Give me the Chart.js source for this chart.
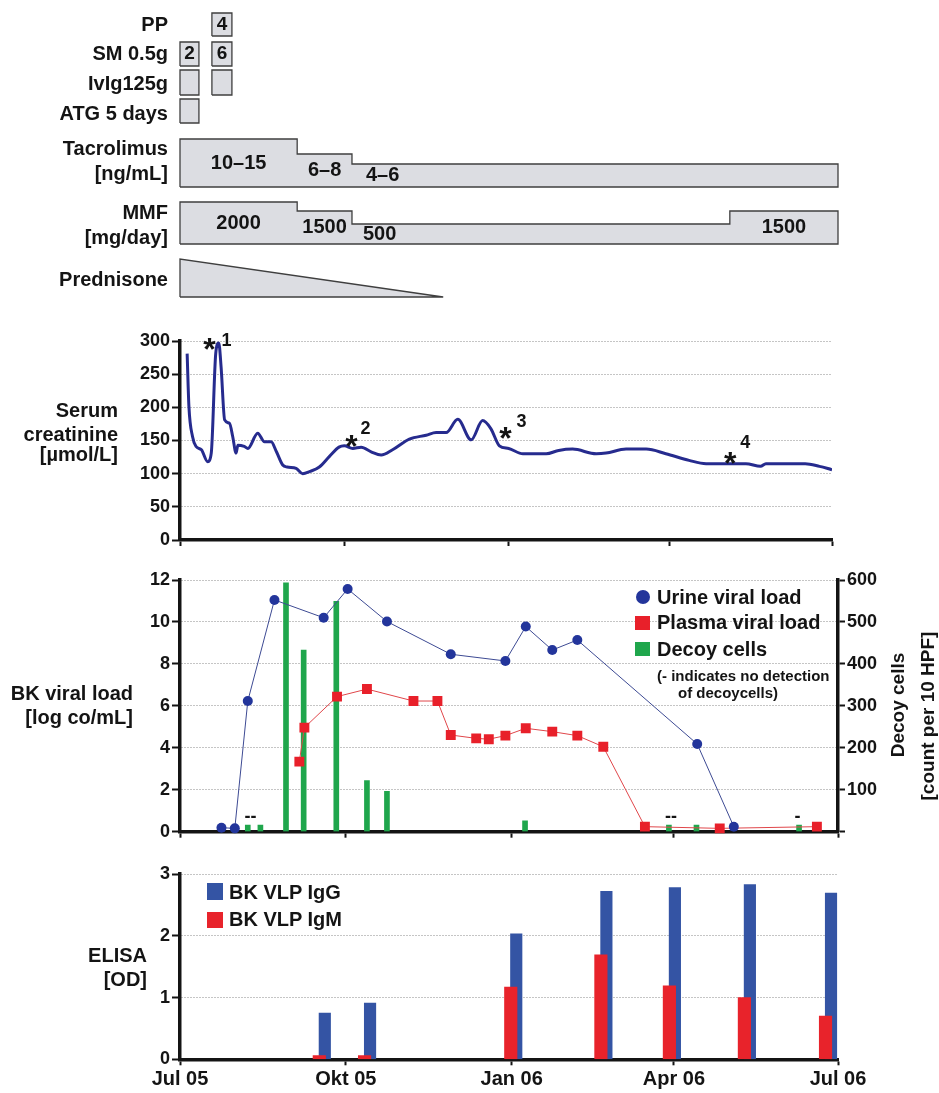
<!DOCTYPE html>
<html><head><meta charset="utf-8">
<script src="https://cdn.jsdelivr.net/npm/chart.js@4.4.1/dist/chart.umd.min.js"></script>
<style>
html,body{margin:0;padding:0;background:#fff;}
#wrap{position:relative;width:939px;height:1093px;overflow:hidden;background:#fff;}
canvas{position:absolute;left:0;}
.t{position:absolute;font:bold 20px/24px "Liberation Sans",Arial,Helvetica,sans-serif;color:#141414;white-space:nowrap;}
.r{text-align:right;}
.n{font:bold 15px/18px "Liberation Sans",Arial,Helvetica,sans-serif;}
.v{font:bold 19px/22px "Liberation Sans",Arial,Helvetica,sans-serif;transform:translate(-50%,-50%) rotate(-90deg);}
.sw{position:absolute;}
</style></head><body>
<div id="wrap">
<canvas id="cTreat" width="939" height="305" style="top:0px"></canvas>
<canvas id="cCrea" width="939" height="240" style="top:320px"></canvas>
<canvas id="cBK" width="939" height="285" style="top:565px"></canvas>
<canvas id="cElisa" width="939" height="243" style="top:850px"></canvas>

<div class="t r" style="right:771px;top:12px">PP</div>
<div class="t r" style="right:771px;top:41px">SM 0.5g</div>
<div class="t r" style="right:771px;top:71px">IvIg125g</div>
<div class="t r" style="right:771px;top:101px">ATG 5 days</div>
<div class="t r" style="right:771px;top:136px">Tacrolimus</div>
<div class="t r" style="right:771px;top:161px">[ng/mL]</div>
<div class="t r" style="right:771px;top:200px">MMF</div>
<div class="t r" style="right:771px;top:225px">[mg/day]</div>
<div class="t r" style="right:771px;top:267px">Prednisone</div>

<div class="t r" style="right:821px;top:398px">Serum</div>
<div class="t r" style="right:821px;top:422px">creatinine</div>
<div class="t r" style="right:821px;top:442px">[µmol/L]</div>

<div class="t r" style="right:806px;top:681px">BK viral load</div>
<div class="t r" style="right:806px;top:705px">[log co/mL]</div>

<div class="t r" style="right:792px;top:943px">ELISA</div>
<div class="t r" style="right:792px;top:967px">[OD]</div>

<div class="sw" style="left:636px;top:590px;width:14px;height:14px;border-radius:50%;background:#23359b"></div>
<div class="sw" style="left:635px;top:616px;width:15px;height:14px;background:#e8202a"></div>
<div class="sw" style="left:635px;top:642px;width:15px;height:14px;background:#1fa64c"></div>
<div class="t" style="left:657px;top:585px">Urine viral load</div>
<div class="t" style="left:657px;top:610px">Plasma viral load</div>
<div class="t" style="left:657px;top:637px">Decoy cells</div>
<div class="t n" style="left:657px;top:667px">(- indicates no detection</div>
<div class="t n" style="left:678px;top:684px">of decoycells)</div>

<div class="t v" style="left:898px;top:705px">Decoy cells</div>
<div class="t v" style="left:928px;top:716px">[count per 10 HPF]</div>

<div class="sw" style="left:207px;top:883px;width:16px;height:17px;background:#3454a4"></div>
<div class="sw" style="left:207px;top:912px;width:16px;height:16px;background:#e8232b"></div>
<div class="t" style="left:229px;top:880px">BK VLP IgG</div>
<div class="t" style="left:229px;top:907px">BK VLP IgM</div>
</div>

<script>
// ---------------- DATA ----------------
// x values are days since 1 Jul 2005
const tickDays = [0, 92, 184, 274, 365];
const tickLabels = ['Jul 05', 'Okt 05', 'Jan 06', 'Apr 06', 'Jul 06'];

// treatment courses
const courseStart = [0, 17.7];
const courseEnd = [10.5, 28.8];
const ppSessions = [null, '4'];
const smPulses = ['2', '6'];
const ivigCourses = [true, true];
const atgCourses = [true, false];

const tacroStart = [0, 65, 95.4];
const tacroEnd = [65, 95.4, 365];
const tacroTarget = ['10–15', '6–8', '4–6'];

const mmfStart = [0, 65, 95.4, 305];
const mmfEnd = [65, 95.4, 305, 365];
const mmfDose = [2000, 1500, 500, 1500];

const prednisoneStart = 0;
const prednisoneEnd = 146;

// serum creatinine [µmol/L]
const creatDays = [4, 5, 7, 9, 12, 15.5, 17.5, 20, 21.7, 23, 25, 27.7, 29.5, 31.4, 32.4, 36, 38, 43.5, 47.3, 51,
  54, 57.5, 60, 65, 68.7, 72.5, 78, 83.7, 89, 92, 96.7, 101.4, 107, 112.6, 119, 128.4, 137.8, 143.4, 149, 155.5,
  163, 169.4, 174, 178.8, 184, 192, 205, 212, 219.8, 233, 238.5, 249.7, 261, 272, 285, 294.5, 305.6, 316.8, 325, 328,
  350, 358, 365];
const creatValues = [281, 201, 156, 141, 136, 118, 131, 281, 297, 261, 181, 176, 156, 131, 143, 141, 138, 161, 148, 148,
  133, 113, 110, 108, 100, 103, 110, 126, 140, 142, 138, 140, 133, 128, 136, 152, 158, 162, 162, 182,
  151, 180, 168, 142, 138, 130, 130, 135, 137, 130, 131, 137, 137, 130, 120, 115, 115, 115, 111, 115,
  115, 111, 106];
const eventDays = [16.5, 96, 182.2, 308];
const eventLevels = [299, 152.7, 165, 127];
const eventLabels = ['1', '2', '3', '4'];

// BK viral load [log co/mL]
const urineDays = [23, 30.4, 37.6, 52.4, 79.7, 93, 114.8, 150.2, 180.5, 191.8, 206.5, 220.4, 286.9, 307.2];
const urineLoad = [0.19, 0.16, 6.23, 11.05, 10.2, 11.57, 10.02, 8.46, 8.14, 9.78, 8.66, 9.14, 4.18, 0.24];
const plasmaDays = [66.2, 69, 87.1, 103.7, 129.5, 142.8, 150.2, 164.3, 171.3, 180.5, 191.8, 206.5, 220.4, 234.8, 257.9, 299.4, 353.3];
const plasmaLoad = [3.34, 4.96, 6.44, 6.8, 6.23, 6.23, 4.61, 4.45, 4.41, 4.58, 4.93, 4.77, 4.58, 4.05, 0.24, 0.16, 0.24];
// decoy cells [count per 10 HPF]
const decoyDays = [37.6, 44.6, 58.8, 68.6, 86.7, 103.7, 114.8, 191.4, 271.2, 286.5, 343.4];
const decoyCount = [16, 16, 593, 433, 549, 122, 96, 26, 16, 16, 16];
const noDetectDays = [39.1, 272.3, 342.6];
const noDetectMarks = ['--', '--', '-'];
const noDetectLevel = 36;

// ELISA [OD]
const elisaDays = [78.8, 103.9, 185, 235, 273, 314.6, 359.6];
const igG = [0.75, 0.91, 2.03, 2.72, 2.78, 2.83, 2.69];
const igM = [0.06, 0.06, 1.17, 1.69, 1.19, 1.0, 0.7];

// ---------------- STYLE / LAYOUT ----------------
const W = 939, PLOT_LEFT = 180, PLOT_RIGHT = 838, CREA_RIGHT = 832;
const INK = '#141414';
const FONT = '"Liberation Sans", Arial, Helvetica, sans-serif';
Chart.defaults.font.family = FONT;
Chart.defaults.color = INK;

const TR = { pp: [13, 36], sm: [42, 66], ivig: [70, 95], atg: [99, 123], tacroBottom: 187, mmfBottom: 244, pred: [259, 297] };
const tacroH = { '10–15': 48, '6–8': 33, '4–6': 23 };
const mmfH = { 2000: 42, 1500: 33, 500: 20 };
const tacroLabelDx = [null, null, 14];
const mmfLabelDx = [null, null, 11, null];
const eventDigitOffset = [[17, -1], [14, -10], [16, -8.5], [15, -13]];
const PAIR_SHIFT = 2.75 * 365 / (PLOT_RIGHT - PLOT_LEFT);

const mid = r => (r[0] + r[1]) / 2;
const pts = (xs, ys) => xs.map((x, i) => ({ x, y: ys[i] }));

function marks(items) {
  return {
    id: 'marks',
    afterDatasetsDraw(chart) {
      const ctx = chart.ctx;
      items.forEach(m => {
        const xs = chart.scales[m.xAxis || 'x'], ys = chart.scales[m.yAxis || 'y'];
        const px = xs.getPixelForValue(m.x) + (m.dx || 0);
        const py = ys.getPixelForValue(m.y) + (m.dy || 0);
        ctx.save();
        ctx.font = m.font;
        ctx.fillStyle = m.color || INK;
        ctx.textAlign = m.align || 'center';
        ctx.textBaseline = m.baseline || 'middle';
        ctx.fillText(m.text, px, py);
        ctx.restore();
      });
    }
  };
}

function xAxis(showLabels, height) {
  return {
    type: 'linear', min: 0, max: 365, offset: false,
    afterBuildTicks(s) { s.ticks = tickDays.map(v => ({ value: v })); },
    ticks: { display: showLabels, autoSkip: false, maxRotation: 0, font: { size: 20, weight: 'bold' }, color: INK, padding: 2,
      callback: (v, i) => tickLabels[i] },
    grid: { display: true, drawOnChartArea: false, drawTicks: true, tickLength: 6, tickWidth: 2, tickColor: INK, offset: false },
    border: { display: true, color: INK, width: 3.5 },
    afterFit(s) { s.height = height; }
  };
}
function yAxis(min, max, step) {
  return {
    type: 'linear', position: 'left', min, max,
    ticks: { stepSize: step, font: { size: 18, weight: 'bold' }, color: INK, padding: 2 },
    grid: { color: '#8a8a8a', lineWidth: 1, tickColor: INK, tickWidth: 2, tickLength: 8, tickBorderDash: [] },
    border: { display: true, color: INK, width: 3.5, dash: [1, 2] },
    afterFit(s) { s.width = PLOT_LEFT; }
  };
}
const base = { responsive: false, animation: false, events: [], plugins: { legend: { display: false }, tooltip: { enabled: false } } };

// ---------------- TREATMENT PANEL ----------------
const shapeStyle = { type: 'line', fill: 'shape', backgroundColor: '#dcdde2', borderColor: '#3f3f3f', borderWidth: 1.3, pointRadius: 0, tension: 0, clip: 4 };
function rect(s, e, r) { return [{ x: s, y: r[1] }, { x: s, y: r[0] }, { x: e, y: r[0] }, { x: e, y: r[1] }, { x: s, y: r[1] }]; }
function steps(starts, ends, tops, b) {
  const p = [{ x: starts[0], y: b }];
  starts.forEach((s, i) => { p.push({ x: s, y: tops[i] }); p.push({ x: ends[i], y: tops[i] }); });
  p.push({ x: ends[ends.length - 1], y: b });
  p.push({ x: starts[0], y: b });
  return p;
}
const trSets = [];
const trMarks = [];
const f20 = 'bold 20px ' + FONT;
courseStart.forEach((s, i) => {
  const e = courseEnd[i], c = (s + e) / 2;
  if (ppSessions[i]) { trSets.push({ ...shapeStyle, data: rect(s, e, TR.pp) }); trMarks.push({ x: c, y: mid(TR.pp), text: ppSessions[i], font: 'bold 19px ' + FONT }); }
  if (smPulses[i]) { trSets.push({ ...shapeStyle, data: rect(s, e, TR.sm) }); trMarks.push({ x: c, y: mid(TR.sm), text: smPulses[i], font: 'bold 19px ' + FONT }); }
  if (ivigCourses[i]) trSets.push({ ...shapeStyle, data: rect(s, e, TR.ivig) });
  if (atgCourses[i]) trSets.push({ ...shapeStyle, data: rect(s, e, TR.atg) });
});
const tacroTops = tacroTarget.map(t => TR.tacroBottom - tacroH[t]);
trSets.push({ ...shapeStyle, data: steps(tacroStart, tacroEnd, tacroTops, TR.tacroBottom) });
tacroStart.forEach((s, i) => {
  const y = (tacroTops[i] + TR.tacroBottom) / 2;
  if (tacroLabelDx[i] !== null) trMarks.push({ x: s, dx: tacroLabelDx[i], y, text: tacroTarget[i], align: 'left', font: f20 });
  else trMarks.push({ x: (s + tacroEnd[i]) / 2, y, text: tacroTarget[i], font: f20 });
});
const mmfTops = mmfDose.map(d => TR.mmfBottom - mmfH[d]);
trSets.push({ ...shapeStyle, data: steps(mmfStart, mmfEnd, mmfTops, TR.mmfBottom) });
mmfStart.forEach((s, i) => {
  const y = (mmfTops[i] + TR.mmfBottom) / 2;
  if (mmfLabelDx[i] !== null) trMarks.push({ x: s, dx: mmfLabelDx[i], y, text: String(mmfDose[i]), align: 'left', font: f20 });
  else trMarks.push({ x: (s + mmfEnd[i]) / 2, y, text: String(mmfDose[i]), font: f20 });
});
trSets.push({ ...shapeStyle, data: [{ x: prednisoneStart, y: TR.pred[1] }, { x: prednisoneStart, y: TR.pred[0] }, { x: prednisoneEnd, y: TR.pred[1] }, { x: prednisoneStart, y: TR.pred[1] }] });

new Chart(document.getElementById('cTreat'), {
  type: 'line',
  data: { datasets: trSets },
  options: { ...base, layout: { padding: { left: PLOT_LEFT, right: W - PLOT_RIGHT, top: 0, bottom: 0 } },
    scales: { x: { type: 'linear', min: 0, max: 365, display: false }, y: { type: 'linear', min: 0, max: 305, reverse: true, display: false } } },
  plugins: [marks(trMarks)]
});

// ---------------- CREATININE ----------------
const creaMarks = [];
eventDays.forEach((d, i) => {
  creaMarks.push({ x: d, y: eventLevels[i], dy: 18.5, text: '*', font: 'bold 32px ' + FONT, baseline: 'alphabetic' });
  creaMarks.push({ x: d, y: eventLevels[i], dx: eventDigitOffset[i][0], dy: eventDigitOffset[i][1], text: eventLabels[i], font: 'bold 18px ' + FONT });
});
new Chart(document.getElementById('cCrea'), {
  type: 'line',
  data: { datasets: [{ data: pts(creatDays, creatValues), borderColor: '#262b8e', borderWidth: 3, pointRadius: 0, cubicInterpolationMode: 'monotone', fill: false }] },
  options: { ...base, layout: { padding: { left: 0, right: W - CREA_RIGHT, top: 21, bottom: 0 } },
    scales: { x: xAxis(false, 20), y: yAxis(0, 300, 50) } },
  plugins: [marks(creaMarks)]
});

// ---------------- BK VIRAL LOAD ----------------
const bkMarks = noDetectDays.map((d, i) => ({ x: d, y: noDetectLevel, yAxis: 'y2', text: noDetectMarks[i], font: 'bold 18px ' + FONT }));
new Chart(document.getElementById('cBK'), {
  type: 'line',
  data: { datasets: [
    { type: 'line', label: 'Urine viral load', data: pts(urineDays, urineLoad), borderColor: '#3d4a93', borderWidth: 1, pointRadius: 5,
      pointBackgroundColor: '#23359b', pointBorderColor: '#23359b', pointBorderWidth: 0, tension: 0, order: 0, yAxisID: 'y', clip: 12 },
    { type: 'line', label: 'Plasma viral load', data: pts(plasmaDays, plasmaLoad), borderColor: '#e0464a', borderWidth: 1, pointStyle: 'rect', pointRadius: 7,
      pointBackgroundColor: '#e8202a', pointBorderColor: '#e8202a', pointBorderWidth: 0, tension: 0, order: 1, yAxisID: 'y', clip: 12 },
    { type: 'bar', label: 'Decoy cells', data: pts(decoyDays, decoyCount), backgroundColor: '#1fa64c', barThickness: 5, grouped: false, order: 2, yAxisID: 'y2' }
  ] },
  options: { ...base, layout: { padding: { left: 0, right: 0, top: 15, bottom: 0 } },
    scales: {
      x: xAxis(false, 18.3),
      y: yAxis(0, 12, 2),
      y2: { type: 'linear', position: 'right', min: 0, max: 600,
        ticks: { stepSize: 100, font: { size: 18, weight: 'bold' }, color: INK, padding: 2, callback: v => v === 0 ? '' : v },
        grid: { drawOnChartArea: false, tickColor: INK, tickWidth: 2, tickLength: 7 },
        border: { display: true, color: INK, width: 3.5 },
        afterFit(s) { s.width = W - PLOT_RIGHT; } }
    } },
  plugins: [marks(bkMarks)]
});

// ---------------- ELISA ----------------
new Chart(document.getElementById('cElisa'), {
  type: 'bar',
  data: { datasets: [
    { label: 'BK VLP IgG', data: pts(elisaDays, igG), backgroundColor: '#3454a4', barThickness: 11.5, grouped: false, xAxisID: 'xg', order: 1 },
    { label: 'BK VLP IgM', data: pts(elisaDays, igM), backgroundColor: '#e8232b', barThickness: 12.5, grouped: false, xAxisID: 'xm', order: 0 }
  ] },
  options: { ...base, layout: { padding: { left: 0, right: W - PLOT_RIGHT, top: 24, bottom: 0 } },
    scales: {
      x: xAxis(true, 33.7),
      xg: { type: 'linear', display: false, min: -PAIR_SHIFT, max: 365 - PAIR_SHIFT, offset: false },
      xm: { type: 'linear', display: false, min: PAIR_SHIFT, max: 365 + PAIR_SHIFT, offset: false },
      y: yAxis(0, 3, 1)
    } }
});
</script>
</body></html>
